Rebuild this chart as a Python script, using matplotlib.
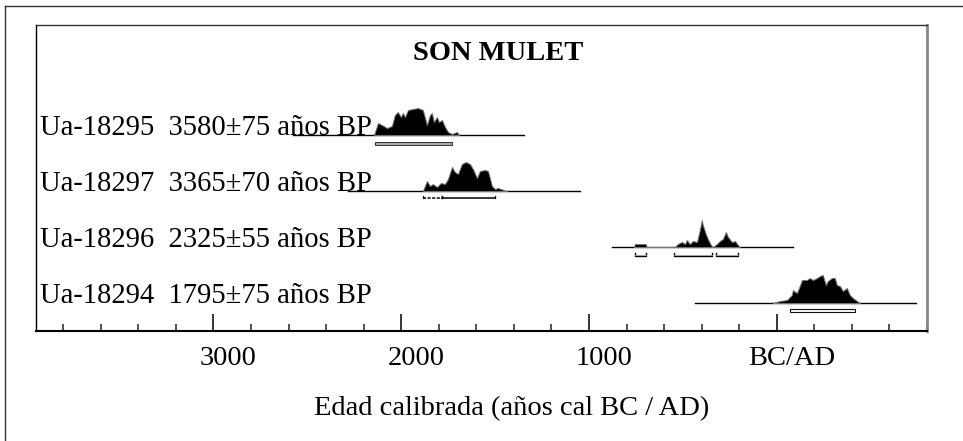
import matplotlib
matplotlib.use("Agg")
import matplotlib.pyplot as plt
from matplotlib.patches import Rectangle
from matplotlib.lines import Line2D
from matplotlib.transforms import ScaledTranslation, blended_transform_factory

plt.rcParams['font.family'] = ['Liberation Serif', 'DejaVu Serif']

# ---------------- data ----------------
title = "SON MULET"
xlabel = "Edad calibrada (años cal BC / AD)"
labels = ["Ua-18295  3580±75 años BP",
          "Ua-18297  3365±70 años BP",
          "Ua-18296  2325±55 años BP",
          "Ua-18294  1795±75 años BP"]

# calibrated probability distributions (year AD, negative = BC ; relative height)
yr1 = [-2145, -2124, -2103, -2076, -2050, -2034, -2018, -2002, -1991, -1980, -1964, -1938, -1911,
       -1885, -1863, -1847, -1837, -1826, -1810, -1799, -1783, -1767, -1751, -1730, -1703, -1693]
p1 = [0, 12, 10, 7, 9, 20, 23, 18, 22, 18, 25, 26, 27, 25, 10, 20, 22, 13, 18, 13, 15, 8, 3, 1, 3, 0]

yr2 = [-1885, -1863, -1847, -1831, -1810, -1789, -1767, -1751, -1730, -1714, -1698, -1677, -1656,
       -1634, -1618, -1597, -1581, -1554, -1538, -1517, -1501, -1485, -1437]
p2 = [0, 10, 5, 7, 4, 8, 7, 12, 24, 19, 17, 27, 29, 27, 22, 13, 20, 21, 20, 5, 2, 3, 0]

yr3 = [-760, -756, -697, -693, -543, -527, -505, -489, -479, -463, -447, -425, -410, -399, -394,
       -378, -367, -351, -340, -319, -303, -287, -271, -260, -239, -223, -207, -196]
p3 = [0, 3, 3, 0, 0, 3, 5, 3, 7, 3, 6, 5, 17, 27, 22, 13, 8, 2, 0, 3, 6, 8, 15, 10, 5, 6, 2, 0]

yr4 = [-21, 17, 54, 80, 86, 107, 118, 134, 160, 176, 192, 214, 230, 245, 261, 272, 293, 309, 320,
       336, 352, 373, 389, 405, 427, 443]
p4 = [0, 2, 3, 8, 13, 10, 15, 23, 23, 25, 23, 25, 27, 28, 18, 22, 25, 25, 18, 17, 12, 15, 8, 5, 2, 0]

years = [yr1, yr2, yr3, yr4]
probs = [p1, p2, p3, p4]

# extent of the plotted calibration line for each sample
spans = [(-2577, -1347), (-2284, -1049), (-878, 86), (-436, 741)]

# 95.4% ranges
ranges = [[(-2140, -1730)],
          [(-1885, -1783), (-1783, -1501)],
          [(-756, -697), (-548, -346), (-324, -207)],
          [(70, 416)]]

major_ticks = [-3000, -2000, -1000, 0]
major_labels = ["3000", "2000", "1000", "BC/AD"]
minor_ticks = list(range(-3800, 801, 200))
xlim = (-3945, 800)

# range-bar drawing style per row
bar_styles = ['gray', 'line', 'bracket', 'double']

# ---------------- figure ----------------
W, H = 963, 441
fig = plt.figure(figsize=(W / 100, H / 100), dpi=100)
ax = fig.add_axes([36 / W, (H - 331) / H, 891 / W, 306 / H])

row_y = [4, 3, 2, 1]          # baselines, top row first
px = 1 / 56.0                 # one pixel in y data units
ax.set_xlim(*xlim)
ax.set_ylim(0.5, 0.5 + 306 * px)

for i in range(4):
    y0 = row_y[i]
    s0, s1 = spans[i]
    ax.plot([s0, s1], [y0, y0], color='black', lw=1.0, zorder=2)
    top = [y0 + v * px for v in probs[i]]
    ax.fill_between(years[i], y0, top, facecolor='black', edgecolor='#777777', lw=0.7, zorder=3)
    st = bar_styles[i]
    for k, (a, b) in enumerate(ranges[i]):
        if st == 'gray':
            ax.add_patch(Rectangle((a, y0 - 9.5 * px), b - a, 3 * px, facecolor='#aaaaaa',
                                   edgecolor='#333333', lw=0.7, zorder=3))
        elif st == 'double':
            ax.add_patch(Rectangle((a, y0 - 9 * px), b - a, 3 * px, facecolor='white',
                                   edgecolor='#111111', lw=0.8, zorder=3))
        elif st == 'line':
            yb = y0 - 7 * px
            ax.plot([a, b], [yb, yb], color='black', lw=1.1,
                    ls=(0, (2, 1)) if k == 0 else '-', zorder=3)
            ax.plot([a, a], [yb, yb + 2 * px], color='black', lw=0.9, zorder=3)
            ax.plot([b, b], [yb, yb + 2 * px], color='black', lw=0.9, zorder=3)
        else:
            yb = y0 - 9 * px
            ax.plot([a, a, b, b], [yb + 3 * px, yb, yb, yb + 3 * px], color='black', lw=1.0,
                    zorder=3)
            ax.plot([a, b], [yb + 1 * px, yb + 1 * px], color='#999999', lw=0.6, zorder=3)
    ax.text(4 / 891, y0, labels[i], transform=blended_transform_factory(ax.transAxes, ax.transData),
            ha='left', va='baseline', fontsize=20.6, zorder=4)

ax.text((498 - 36) / 891, (331 - 60) / 306, title, transform=ax.transAxes, ha='center',
        va='baseline', fontsize=20.5, fontweight='bold')

# axes styling
ax.set_yticks([])
ax.set_xticks(major_ticks)
ax.set_xticklabels(major_labels, fontsize=20.5)
ax.set_xticks(minor_ticks, minor=True)
ax.tick_params(axis='x', which='major', direction='in', length=12, width=1.1, pad=11,
               color='black')
ax.tick_params(axis='x', which='minor', direction='in', length=5, width=1.2, color='#333333')
for lab in ax.get_xticklabels():
    lab.set_transform(lab.get_transform() + ScaledTranslation(15 / 100, 0, fig.dpi_scale_trans))

ax.spines['bottom'].set_linewidth(1.5)
ax.spines['bottom'].set_color('black')
ax.spines['left'].set_linewidth(1.0)
ax.spines['left'].set_color('black')
ax.spines['top'].set_linewidth(1.0)
ax.spines['top'].set_color('#333333')
ax.spines['right'].set_linewidth(2.0)
ax.spines['right'].set_color('#888888')

fig.text(512 / W, 1 - 415 / H, xlabel, ha='center', va='baseline', fontsize=20.5)

# outer frame (top and left edges visible)
fig.add_artist(Line2D([5 / W, 5 / W], [0, 1 - 6 / H], transform=fig.transFigure,
                      color='#333333', lw=1.0))
fig.add_artist(Line2D([5 / W, 1], [1 - 6 / H, 1 - 6 / H], transform=fig.transFigure,
                      color='#333333', lw=1.0))

fig.savefig("out.png", dpi=100)
